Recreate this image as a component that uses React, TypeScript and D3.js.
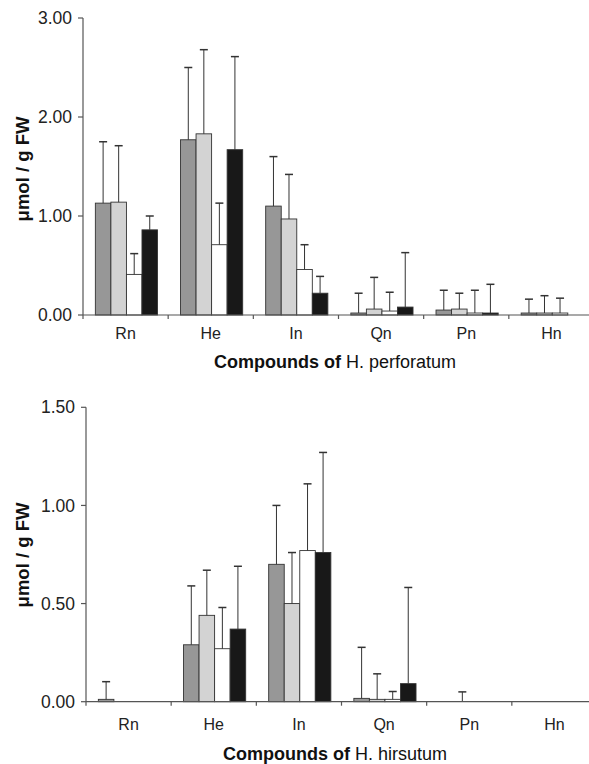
import React from "react";
import * as d3 from "d3";

// categories + series (bar order within a group)
const compounds = ["Rn", "He", "In", "Qn", "Pn", "Hn"];
const seriesKeys = ["s1", "s2", "s3", "s4"];
const seriesFill = ["#979797", "#d3d3d3", "#ffffff", "#181818"];

// H. perforatum means / standard deviations (null = no bar)
const perfMeans = [
  [1.13, 1.14, 0.41, 0.86],
  [1.77, 1.83, 0.71, 1.67],
  [1.10, 0.97, 0.46, 0.22],
  [0.02, 0.06, 0.04, 0.08],
  [0.05, 0.06, 0.02, 0.02],
  [0.02, 0.02, 0.02, null],
];
const perfSD = [
  [0.62, 0.57, 0.21, 0.14],
  [0.73, 0.85, 0.42, 0.94],
  [0.50, 0.45, 0.25, 0.17],
  [0.20, 0.32, 0.19, 0.55],
  [0.20, 0.16, 0.23, 0.29],
  [0.14, 0.175, 0.15, null],
];

// H. hirsutum
const hirsMeans = [
  [0.012, 0, 0, 0],
  [0.29, 0.44, 0.27, 0.37],
  [0.70, 0.50, 0.77, 0.76],
  [0.017, 0.012, 0.012, 0.092],
  [0, 0, 0, 0],
  [0, 0, 0, 0],
];
const hirsSD = [
  [0.09, null, null, null],
  [0.30, 0.23, 0.21, 0.32],
  [0.30, 0.26, 0.34, 0.51],
  [0.26, 0.13, 0.04, 0.49],
  [null, 0.05, null, null],
  [null, null, null, null],
];

const perfTicks = [0, 1, 2, 3];
const hirsTicks = [0, 0.5, 1, 1.5];

const font = "'Liberation Sans', Arial, Helvetica, sans-serif";
const axisCol = "#555";

type PanelProps = {
  means: (number | null)[][];
  sds: (number | null)[][];
  ticks: number[];
  yMax: number;
  x0: number;
  x1: number;
  yTop: number;
  yBase: number;
  species: string;
  labelY: number;
  titleY: number;
  ylabelY: number;
};

function Panel({ means, sds, ticks, yMax, x0, x1, yTop, yBase, species, labelY, titleY, ylabelY }: PanelProps) {
  const x = d3.scaleBand<string>().domain(compounds).range([x0, x1]).padding(0);
  const bw = x.bandwidth();
  const inner = d3.scaleBand<string>().domain(seriesKeys).range([bw * 0.145, bw * 0.875]).padding(0);
  const y = d3.scaleLinear().domain([0, yMax]).range([yBase, yTop]);

  return (
    <g>
      {/* bars */}
      {compounds.map((c, i) =>
        seriesKeys.map((s, j) => {
          const v = means[i][j];
          if (v == null || v <= 0) return null;
          return (
            <rect
              key={c + s}
              x={x(c)! + inner(s)!}
              y={y(v)}
              width={inner.bandwidth()}
              height={yBase - y(v)}
              fill={seriesFill[j]}
              stroke="#333"
              strokeWidth={0.9}
            />
          );
        })
      )}
      {/* error bars */}
      {compounds.map((c, i) =>
        seriesKeys.map((s, j) => {
          const sd = sds[i][j];
          if (sd == null) return null;
          const v = means[i][j] ?? 0;
          const cx = x(c)! + inner(s)! + inner.bandwidth() / 2;
          return (
            <g key={"e" + c + s} stroke="#333" strokeWidth={1}>
              <line x1={cx} x2={cx} y1={y(v)} y2={y(v + sd)} />
              <line x1={cx - 4} x2={cx + 4} y1={y(v + sd)} y2={y(v + sd)} strokeWidth={1.5} />
            </g>
          );
        })
      )}
      {/* y axis */}
      <line x1={x0} x2={x0} y1={yTop} y2={yBase + 4} stroke={axisCol} strokeWidth={1.2} />
      {ticks.map((t) => (
        <g key={t}>
          <line x1={x0 - 5} x2={x0} y1={y(t)} y2={y(t)} stroke={axisCol} strokeWidth={1.2} />
          <text x={x0 - 11} y={y(t)} dy="0.35em" textAnchor="end" fontSize={17.5} fill="#222">
            {d3.format(".2f")(t)}
          </text>
        </g>
      ))}
      {/* x axis */}
      <line x1={x0} x2={x1} y1={yBase} y2={yBase} stroke={axisCol} strokeWidth={1.2} />
      {compounds.slice(1).map((c) => (
        <line key={"t" + c} x1={x(c)!} x2={x(c)!} y1={yBase} y2={yBase + 4} stroke={axisCol} strokeWidth={1.2} />
      ))}
      {compounds.map((c) => (
        <text key={"l" + c} x={x(c)! + bw / 2} y={labelY} textAnchor="middle" fontSize={16} fill="#222">
          {c}
        </text>
      ))}
      <text x={335} y={titleY} textAnchor="middle" fontSize={18} fill="#111">
        <tspan fontWeight="bold">Compounds of </tspan>
        <tspan>{species}</tspan>
      </text>
      <text
        transform={`translate(29,${ylabelY}) rotate(-90)`}
        textAnchor="middle"
        fontSize={18.5}
        fontWeight="bold"
        fill="#111"
      >
        μmol / g FW
      </text>
    </g>
  );
}

export default function App() {
  return (
    <svg
      width={589}
      height={764}
      style={{ position: "absolute", left: 0, top: 0, background: "#fff", fontFamily: font }}
    >
      <rect width={589} height={764} fill="#fff" />
      <Panel
        means={perfMeans}
        sds={perfSD}
        ticks={perfTicks}
        yMax={3}
        x0={83}
        x1={594}
        yTop={18}
        yBase={315}
        species="H. perforatum"
        labelY={339}
        titleY={368}
        ylabelY={169}
      />
      <Panel
        means={hirsMeans}
        sds={hirsSD}
        ticks={hirsTicks}
        yMax={1.5}
        x0={86}
        x1={597}
        yTop={407.3}
        yBase={701.7}
        species="H. hirsutum"
        labelY={730}
        titleY={760}
        ylabelY={555}
      />
    </svg>
  );
}
